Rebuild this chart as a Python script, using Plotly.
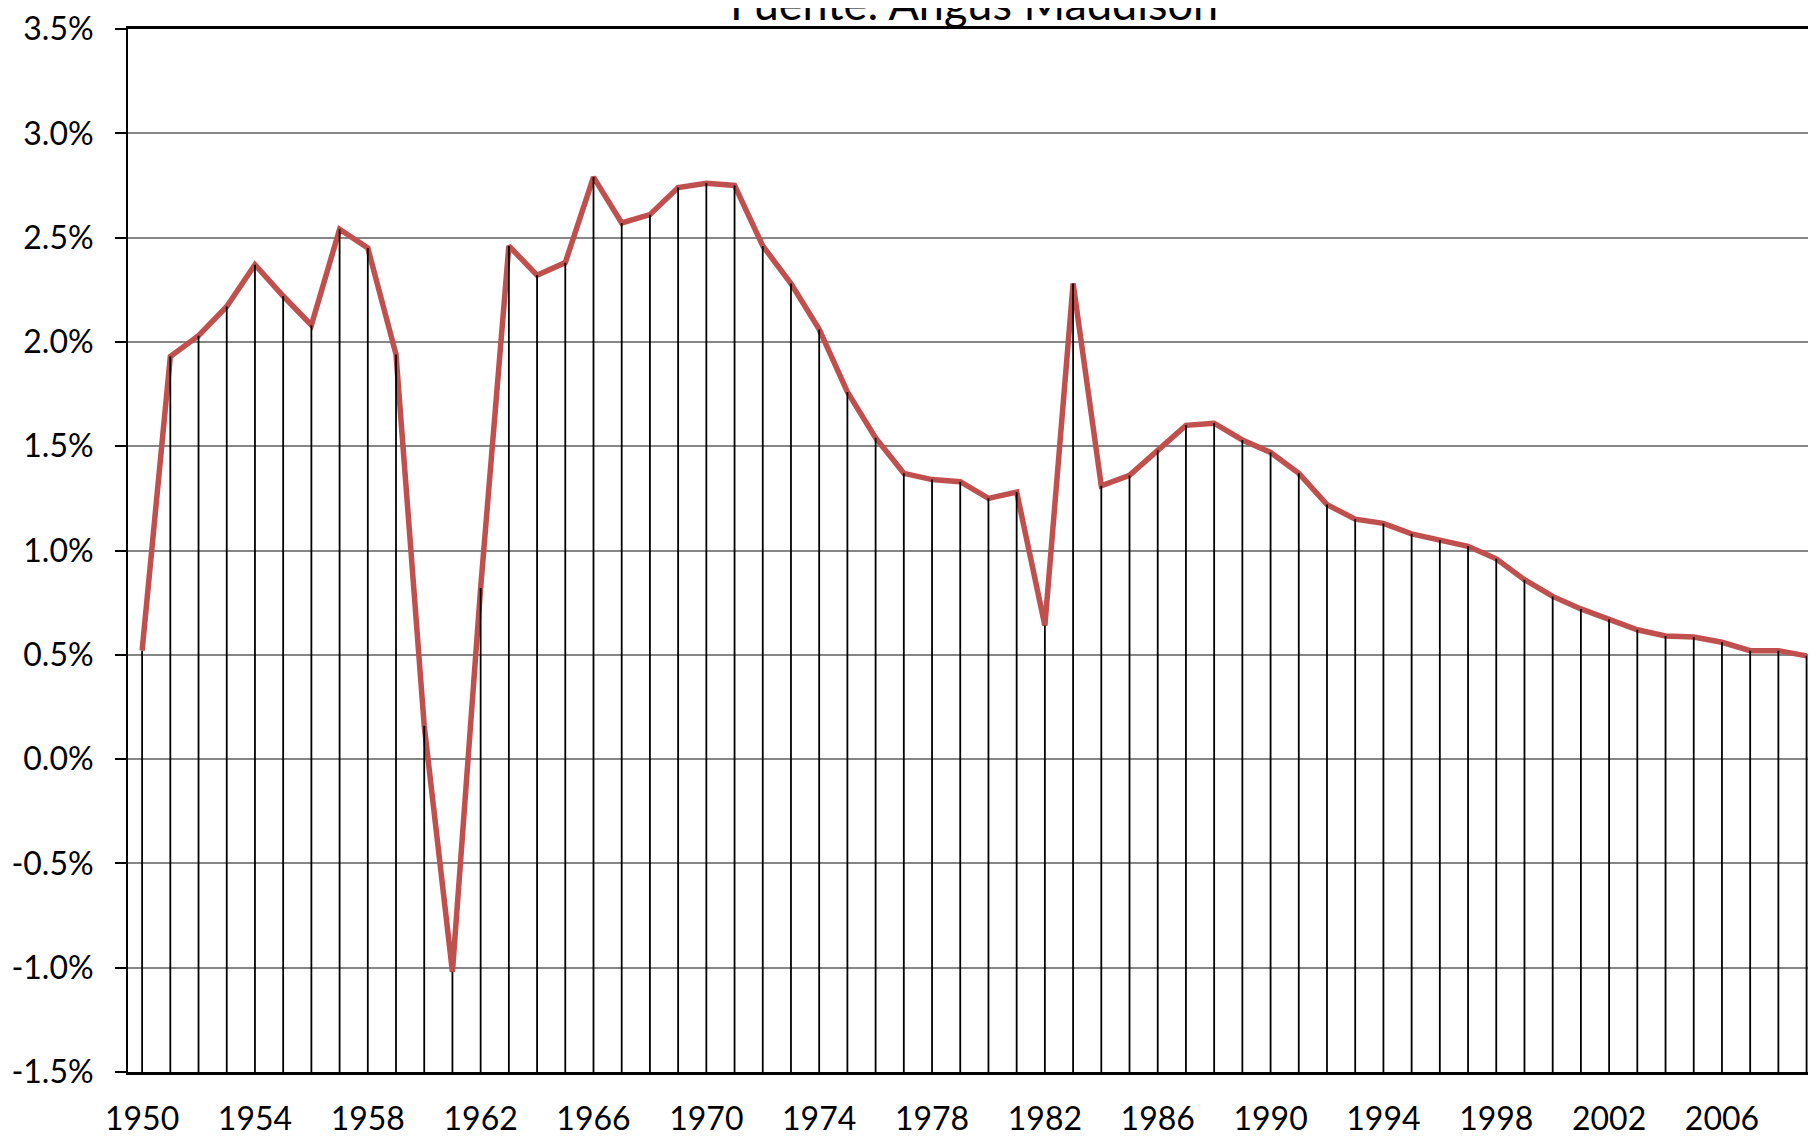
import plotly.graph_objects as go

# tasa de crecimiento anual de la poblacion mundial (%)
years = list(range(1950, 2010))
growth = [
    0.52, 1.93, 2.03, 2.17, 2.37, 2.22, 2.08, 2.54, 2.45, 1.94,
    0.16, -1.02, 0.82, 2.46, 2.32, 2.38, 2.79, 2.57, 2.61, 2.74,
    2.76, 2.75, 2.46, 2.28, 2.06, 1.76, 1.54, 1.37, 1.34, 1.33,
    1.25, 1.28, 0.64, 2.28, 1.31, 1.36, 1.48, 1.60, 1.61, 1.53,
    1.47, 1.37, 1.22, 1.15, 1.13, 1.08, 1.05, 1.02, 0.96, 0.86,
    0.78, 0.72, 0.67, 0.62, 0.59, 0.585, 0.56, 0.52, 0.52, 0.495,
]

y_ticks = [-1.5, -1.0, -0.5, 0.0, 0.5, 1.0, 1.5, 2.0, 2.5, 3.0, 3.5]
y_tick_labels = ["-1.5%", "-1.0%", "-0.5%", "0.0%", "0.5%", "1.0%",
                 "1.5%", "2.0%", "2.5%", "3.0%", "3.5%"]
x_ticks = [1950, 1954, 1958, 1962, 1966, 1970, 1974, 1978,
           1982, 1986, 1990, 1994, 1998, 2002, 2006]

y_min = y_ticks[0]

# lineas de caida desde cada punto hasta el eje
drop_x, drop_y = [], []
for yr, v in zip(years, growth):
    drop_x += [yr, yr, None]
    drop_y += [v, y_min, None]

fig = go.Figure()
fig.add_trace(go.Scatter(x=years, y=growth, mode="lines",
                         line=dict(color="#C0504D", width=5.5),
                         hoverinfo="x+y"))
fig.add_trace(go.Scatter(x=drop_x, y=drop_y, mode="lines",
                         line=dict(color="black", width=1.8),
                         hoverinfo="skip"))

fig.add_annotation(text="Fuente: Angus Maddison", xref="paper", yref="paper",
                   x=0.5, y=1, xanchor="center", yanchor="middle",
                   xshift=6, yshift=26,
                   showarrow=False, font=dict(size=45, color="black"))

# la pagina deja 8px de margen: figura un poco mas chica para que no desborde
fig.update_layout(
    width=1800, height=1129,
    margin=dict(l=120, r=0, t=14, b=58),
    paper_bgcolor="white", plot_bgcolor="white",
    showlegend=False,
    font=dict(family="Lato", size=32, color="black"),
    xaxis=dict(range=[1949.5, 2009.05], tickvals=x_ticks,
               showgrid=False, zeroline=False,
               showline=True, linecolor="black", linewidth=3, mirror=True,
               ticks="", ticklabelstandoff=17, ticklabeloverflow="allow"),
    yaxis=dict(range=[y_min, y_ticks[-1]], tickvals=y_ticks, ticktext=y_tick_labels,
               showgrid=True, gridcolor="#868686", gridwidth=2, zeroline=False,
               showline=True, linecolor="black", linewidth=2,
               ticks="outside", ticklen=11, tickwidth=2, tickcolor="black",
               ticklabelstandoff=15, ticklabeloverflow="allow"),
)

fig.write_html("out.html")
